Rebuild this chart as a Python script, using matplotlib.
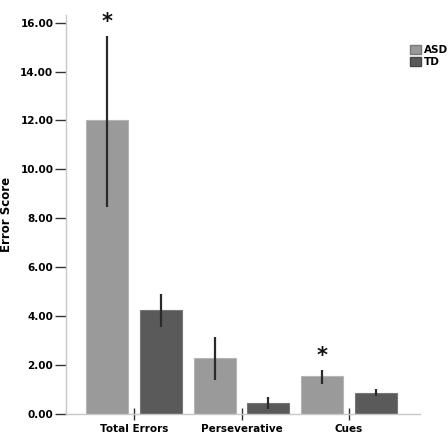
import matplotlib.pyplot as plt
import numpy as np
from matplotlib.patches import Patch

categories = ["Total Errors", "Perseverative", "Cues"]
groups = ["ASD", "TD"]
asd_mean = [12.0, 2.27, 1.53]
asd_lo = [8.45, 1.39, 1.23]
asd_hi = [15.45, 3.15, 1.80]
td_mean = [4.26, 0.45, 0.87]
td_lo = [3.55, 0.20, 0.74]
td_hi = [4.90, 0.71, 1.02]
stars = [0, 2]  # categories where ASD is marked

fig = plt.figure(figsize=(4.48, 4.38), dpi=100)
ax = fig.add_axes([0.147, 0.055, 0.79, 0.91])

x = np.arange(len(categories))
w = 0.39
off = 0.25
asd_col = "#9a9a9a"
td_col = "#5a5a5a"

ax.bar(x - off, asd_mean, w, color=asd_col, edgecolor="#b5b5b5", linewidth=0.8)
ax.bar(x + off, td_mean, w, color=td_col, edgecolor="#777777", linewidth=0.8)

asd_err = [np.array(asd_mean) - np.array(asd_lo), np.array(asd_hi) - np.array(asd_mean)]
td_err = [np.array(td_mean) - np.array(td_lo), np.array(td_hi) - np.array(td_mean)]
ax.errorbar(x - off, asd_mean, yerr=asd_err, fmt="none", ecolor="#2a2a2a", elinewidth=1.6, capsize=0)
ax.errorbar(x + off, td_mean, yerr=td_err, fmt="none", ecolor="#2a2a2a", elinewidth=1.6, capsize=0)

for i in stars:
    ax.text(x[i] - off, asd_hi[i] + 0.15, "*", ha="center", va="bottom",
            fontsize=15, fontweight="bold", color="#111111")

ax.set_xlim(-0.636, 2.66)
ax.set_ylim(0, 16.3)
ax.set_yticks(np.arange(0, 17, 2))
ax.set_yticklabels([f"{v:.2f}" for v in np.arange(0, 17, 2)], fontsize=7.5, fontweight="bold")
ax.set_xticks(x)
ax.set_xticklabels(categories, fontsize=7.5, fontweight="bold")
ax.tick_params(axis="both", length=8, width=1, color="#333333", pad=1)
ax.tick_params(axis="x", direction="inout", length=8, pad=3)

for s in ["top", "right"]:
    ax.spines[s].set_visible(False)
for s in ["left", "bottom"]:
    ax.spines[s].set_color("#c8c8c8")
    ax.spines[s].set_linewidth(1)

ax.set_ylabel("Error Score", fontsize=8.5, fontweight="bold", labelpad=5)

handles = [Patch(facecolor=asd_col, edgecolor="#777777", label=groups[0]),
           Patch(facecolor=td_col, edgecolor="#444444", label=groups[1])]
fig.legend(handles=handles, loc="upper left", bbox_to_anchor=(0.9, 0.915),
           frameon=False, prop={"size": 7.5, "weight": "bold"},
           handlelength=1.0, handleheight=1.0, handletextpad=0.3,
           labelspacing=0.2, borderpad=0.2)

fig.savefig("out.png", dpi=100)
